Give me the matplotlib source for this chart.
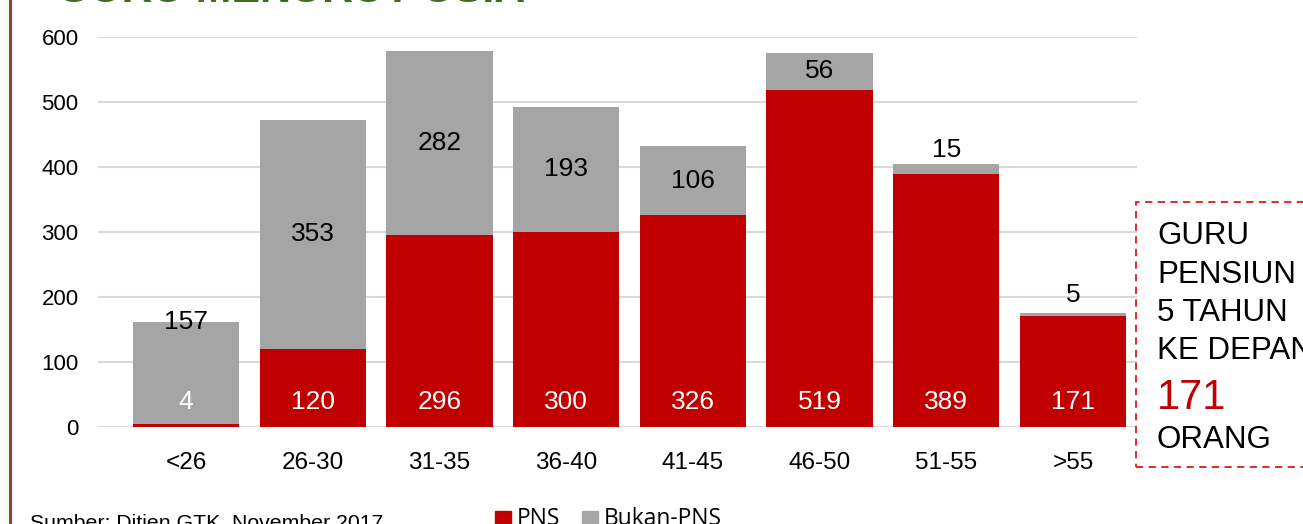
import matplotlib
matplotlib.use("Agg")
import matplotlib.pyplot as plt
from matplotlib.patches import Rectangle
import numpy as np

plt.rcParams["font.family"] = ["Liberation Sans", "DejaVu Sans"]

# data
age_groups = ["<26", "26-30", "31-35", "36-40", "41-45", "46-50", "51-55", ">55"]
pns = [4, 120, 296, 300, 326, 519, 389, 171]
bukan_pns = [157, 353, 282, 193, 106, 56, 15, 5]
y_ticks = [0, 100, 200, 300, 400, 500, 600]
series_names = ["PNS", "Bukan-PNS"]

RED = "#C00000"
GRAY = "#A5A5A5"
GRID = "#D9D9D9"
GREEN = "#3E6B1E"
BROWN = "#8B4A1C"

W, H = 1303, 524
fig = plt.figure(figsize=(W / 100, H / 100), dpi=100)
ax = fig.add_axes([98 / W, (H - 427) / H, (1137 - 98) / W, (427 - 37) / H])

x = np.arange(len(age_groups))
width = 0.84
ax.bar(x, pns, width, color=RED, label=series_names[0], zorder=2)
ax.bar(x, bukan_pns, width, bottom=pns, color=GRAY, label=series_names[1], zorder=2)

ax.set_xlim(-0.695, 7.506)
ax.set_ylim(0, 600)
ax.set_yticks(y_ticks)
ax.yaxis.grid(True, color=GRID, linewidth=1.5, zorder=0)
ax.set_axisbelow(True)
for s in ax.spines.values():
    s.set_visible(False)
ax.tick_params(axis="both", length=0)
ax.tick_params(axis="y", pad=14, labelsize=16)
ax.tick_params(axis="x", pad=18, labelsize=17.5)
ax.set_xticks(x)
ax.set_xticklabels(age_groups)

LABEL_SIZE = 19

# PNS labels sit low in the bar, white
for xi, v in zip(x, pns):
    ax.text(xi, 38, str(v), ha="center", va="center", color="white",
            fontsize=LABEL_SIZE, zorder=3)

# Bukan-PNS labels: centred in the grey part, except where it is too thin
for i, (xi, p, v) in enumerate(zip(x, pns, bukan_pns)):
    top = p + v
    if i == 0:
        y = top
    elif v < 30:
        y = top + (22 if v > 10 else 27)
    else:
        y = p + v / 2
    ax.text(xi, y, str(v), ha="center", va="center", color="black",
            fontsize=LABEL_SIZE, zorder=3)

# cut-off slide title and left border
fig.text(57 / W, 1 - 2.5 / H, "GURU MENURUT USIA", color=GREEN, fontsize=31,
         fontweight="bold", ha="left", va="baseline")
fig.add_artist(plt.Line2D([10 / W, 10 / W], [0, 1], color=BROWN, linewidth=2.2))

# call-out box on the right
fig.add_artist(Rectangle((1136 / W, (H - 467) / H), 200 / W, (467 - 202) / H,
                         transform=fig.transFigure, fill=False, edgecolor="#D81E1E",
                         linestyle=(0, (4, 3)), linewidth=1.3))
tx = 1157 / W
for txt, yb in [("GURU", 244), ("PENSIUN", 283), ("5 TAHUN", 321), ("KE DEPAN", 359)]:
    fig.text(tx, 1 - yb / H, txt, fontsize=22.5, ha="left", va="baseline")
fig.text(tx, 1 - 409 / H, "171", fontsize=30, color=RED, ha="left", va="baseline")
fig.text(tx, 1 - 448 / H, "ORANG", fontsize=22.5, ha="left", va="baseline")

# footer: source and legend, both cut off by the page edge
fig.text(30 / W, 1 - 514 / H, "Sumber: Ditjen GTK, November 2017", fontsize=15.3,
         ha="left", va="top")
legend_items = [(495, series_names[0], RED), (582, series_names[1], GRAY)]
for lx, name, col in legend_items:
    fig.add_artist(Rectangle((lx / W, (H - 527) / H), 16 / W, 16 / H,
                             transform=fig.transFigure, color=col))
    fig.text((lx + 22) / W, 1 - 525 / H, name, fontsize=16.4, family="Open Sans",
             ha="left", va="baseline")

fig.savefig("out.png", dpi=100)
